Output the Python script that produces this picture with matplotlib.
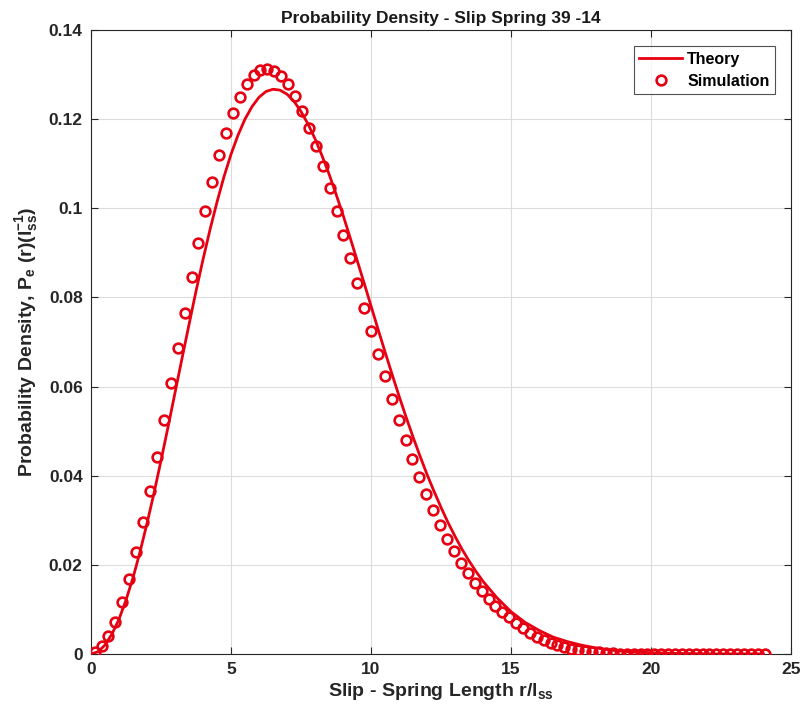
import numpy as np
import matplotlib
matplotlib.use('Agg')
import matplotlib.pyplot as plt
from matplotlib.ticker import FormatStrFormatter

plt.rcParams['font.family'] = ['Liberation Sans', 'DejaVu Sans']
plt.rcParams['font.weight'] = 'bold'
plt.rcParams['mathtext.fontset'] = 'custom'
plt.rcParams['mathtext.rm'] = 'Liberation Sans:bold'
plt.rcParams['mathtext.bf'] = 'Liberation Sans:bold'
plt.rcParams['mathtext.default'] = 'bf'

# theory curve r/l_ss vs P_e
r_theory = [0.0, 0.25, 0.5, 0.75, 1.0, 1.25, 1.5, 1.75, 2.0, 2.25, 2.5, 2.75,
            3.0, 3.25, 3.5, 3.75, 4.0, 4.25, 4.5, 4.75, 5.0, 5.25, 5.5, 5.75,
            6.0, 6.25, 6.5, 6.75, 7.0, 7.25, 7.5, 7.75, 8.0, 8.25, 8.5, 8.75,
            9.0, 9.25, 9.5, 9.75, 10.0, 10.25, 10.5, 10.75, 11.0, 11.25, 11.5, 11.75,
            12.0, 12.25, 12.5, 12.75, 13.0, 13.25, 13.5, 13.75, 14.0, 14.5, 15.0, 15.5,
            16.0, 16.5, 17.0, 17.5, 18.0, 18.5, 19.0, 19.5, 20.0, 20.5, 21.0, 21.5,
            22.0, 22.5, 23.0, 23.5, 24.0]
p_theory = [0.0, 0.0005, 0.0020, 0.0045, 0.0078, 0.0121, 0.0171, 0.0229, 0.0293, 0.0361, 0.0434, 0.0509,
            0.0586, 0.0663, 0.0739, 0.0814, 0.0885, 0.0952, 0.1014, 0.1071, 0.1121, 0.1164, 0.1200, 0.1228,
            0.1249, 0.1262, 0.1267, 0.1265, 0.1256, 0.1240, 0.1217, 0.1189, 0.1156, 0.1118, 0.1077, 0.1032,
            0.0985, 0.0935, 0.0884, 0.0833, 0.0781, 0.0729, 0.0678, 0.0628, 0.0579, 0.0532, 0.0487, 0.0444,
            0.0403, 0.0365, 0.0329, 0.0295, 0.0264, 0.0235, 0.0209, 0.0185, 0.0163, 0.0126, 0.0095, 0.0071,
            0.0053, 0.0038, 0.0028, 0.0020, 0.0014, 0.0009, 0.0006, 0.0004, 0.0003, 0.0002, 0.0001, 0.0001,
            0.0, 0.0, 0.0, 0.0, 0.0]

# simulation histogram (bin centres)
r_sim = [0.13, 0.38, 0.62, 0.87, 1.12, 1.36, 1.61, 1.86, 2.10, 2.35,
         2.60, 2.84, 3.09, 3.34, 3.59, 3.83, 4.08, 4.33, 4.57, 4.82,
         5.07, 5.31, 5.56, 5.81, 6.05, 6.30, 6.55, 6.79, 7.04, 7.29,
         7.53, 7.78, 8.03, 8.27, 8.52, 8.77, 9.01, 9.26, 9.51, 9.76,
         10.00, 10.25, 10.50, 10.74, 10.99, 11.24, 11.48, 11.73, 11.98, 12.22,
         12.47, 12.72, 12.96, 13.21, 13.46, 13.70, 13.95, 14.20, 14.44, 14.69,
         14.94, 15.18, 15.43, 15.68, 15.92, 16.17, 16.42, 16.66, 16.91, 17.16,
         17.41, 17.65, 17.90, 18.15, 18.39, 18.64, 18.89, 19.13, 19.38, 19.63,
         19.87, 20.12, 20.37, 20.61, 20.86, 21.11, 21.35, 21.60, 21.85, 22.09,
         22.34, 22.59, 22.83, 23.08, 23.33, 23.58, 23.82, 24.07]
p_sim = [0.0004, 0.0018, 0.0040, 0.0072, 0.0116, 0.0168, 0.0229, 0.0296, 0.0366, 0.0443,
         0.0524, 0.0607, 0.0687, 0.0765, 0.0845, 0.0922, 0.0993, 0.1059, 0.1119, 0.1169,
         0.1213, 0.1249, 0.1279, 0.1299, 0.1310, 0.1312, 0.1308, 0.1297, 0.1279, 0.1251,
         0.1219, 0.1180, 0.1139, 0.1094, 0.1045, 0.0993, 0.0941, 0.0888, 0.0832, 0.0777,
         0.0725, 0.0674, 0.0623, 0.0572, 0.0524, 0.0479, 0.0437, 0.0398, 0.0358, 0.0322,
         0.0289, 0.0258, 0.0230, 0.0204, 0.0181, 0.0160, 0.0141, 0.0124, 0.0108, 0.0094,
         0.0082, 0.0070, 0.0058, 0.0048, 0.0039, 0.0031, 0.0025, 0.0020, 0.0016, 0.0012,
         0.0009, 0.0006, 0.0005, 0.0004, 0.0003, 0.0002, 0.0001, 0.0001, 0.0001, 0.0001,
         0.0001, 0.0, 0.0, 0.0, 0.0, 0.0, 0.0, 0.0, 0.0, 0.0,
         0.0, 0.0, 0.0, 0.0, 0.0, 0.0, 0.0, 0.0]

red = '#e60012'

fig = plt.figure(figsize=(8.04, 7.17), dpi=100)
ax = fig.add_axes([0.1132, 0.0879, 0.8706, 0.8703])

ax.plot(r_theory, p_theory, '-', color=red, linewidth=2.0, label='Theory', zorder=3)
ax.plot(r_sim, p_sim, 'o', color=red, markerfacecolor='none', markersize=7.0,
        markeredgewidth=1.9, label='Simulation', zorder=4)

ax.set_xlim(0, 25)
ax.set_ylim(0, 0.14)
ax.set_xticks(np.arange(0, 26, 5))
ax.set_yticks(np.arange(0, 0.141, 0.02))
ax.yaxis.set_major_formatter(FormatStrFormatter('%g'))
ax.tick_params(direction='in', top=True, right=True, labelsize=12.5,
               length=5, width=0.8, colors='#262626', pad=6)
for lab in ax.get_xticklabels() + ax.get_yticklabels():
    lab.set_fontweight('bold')
for sp in ax.spines.values():
    sp.set_color('#262626')
    sp.set_linewidth(0.8)
ax.grid(True, color='#dcdcdc', linewidth=0.8)
ax.set_axisbelow(True)

ax.set_title('Probability Density - Slip Spring 39 -14', fontsize=12.5,
             fontweight='bold', pad=5, color='#1a1a1a')
ax.set_xlabel(r'Slip - Spring Length r/l$_{ss}$', fontsize=14, fontweight='bold',
              color='#262626', labelpad=3)
ax.set_ylabel(r'Probability Density, P$_{e}$ (r)(l$^{-1}_{ss}$)', fontsize=14,
              fontweight='bold', color='#262626', labelpad=6)

leg = ax.legend(loc='upper right', fontsize=11.5, frameon=True, fancybox=False,
                edgecolor='#262626', borderaxespad=1.0, handlelength=2.7,
                handletextpad=0.3, borderpad=0.35, labelspacing=0.45)
leg.get_frame().set_linewidth(0.8)
for t in leg.get_texts():
    t.set_fontweight('bold')

fig.savefig('out.png', dpi=100)
